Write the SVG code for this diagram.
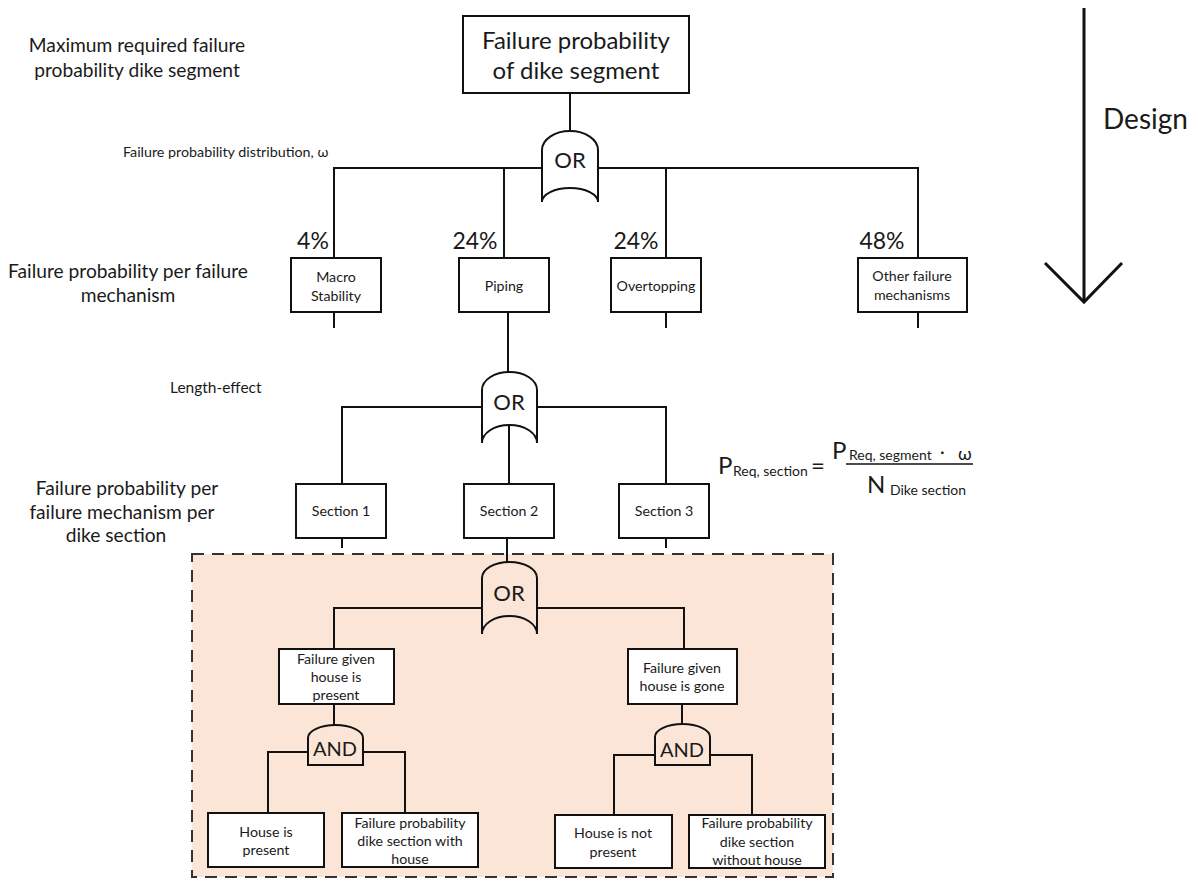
<svg xmlns="http://www.w3.org/2000/svg" width="1193" height="879" viewBox="0 0 1193 879">
<style>
text{font-family:Lato,"Liberation Sans",sans-serif;fill:#1a1a1a}
.box{fill:#fff;stroke:#111;stroke-width:2}
.gate{fill:#fff;stroke:#111;stroke-width:2}
.gatep{fill:none;stroke:#111;stroke-width:2}
.ln{fill:none;stroke:#111;stroke-width:2}
.t13{font-size:14.2px;text-anchor:middle}
.t17{font-size:19.2px;text-anchor:middle}
.pct{font-size:23px;text-anchor:middle}
.g{font-size:22px;text-anchor:middle}
.sub{font-size:14px}
</style>
<rect id="house-region" x="192" y="554" width="641" height="323" fill="#FBE5D6" stroke="#333" stroke-width="2" stroke-dasharray="12 8"/>
<g id="labels">
<text class="t17" x="137" y="52">Maximum required failure</text>
<text class="t17" x="137" y="77">probability dike segment</text>
<text x="123" y="157" font-size="14.3">Failure probability distribution, ω</text>
<text class="t17" x="128" y="278">Failure probability per failure</text>
<text class="t17" x="128" y="302">mechanism</text>
<text x="170" y="393" font-size="15.5">Length-effect</text>
<text class="t17" x="127" y="495">Failure probability per</text>
<text class="t17" x="122" y="519">failure mechanism per</text>
<text class="t17" x="116" y="542">dike section</text>
<text class="pct" x="313" y="249">4%</text>
<text class="pct" x="475" y="249">24%</text>
<text class="pct" x="636" y="249">24%</text>
<text class="pct" x="882" y="249">48%</text>
</g>
<g id="design-arrow">
<line x1="1084" y1="8" x2="1084" y2="301" stroke="#111" stroke-width="3"/>
<polyline points="1045,263 1084,302 1122,263" fill="none" stroke="#111" stroke-width="3"/>
<text x="1103" y="129" font-size="28">Design</text>
</g>
<g id="formula">
<text x="718" y="474" font-size="24">P</text>
<text class="sub" x="733" y="476">Req, section</text>
<text x="811" y="474" font-size="24">=</text>
<text x="832" y="459" font-size="24">P</text>
<text class="sub" x="849" y="460">Req, segment</text>
<text x="940" y="458" font-size="18">·</text>
<text x="958" y="460" font-size="18">ω</text>
<line x1="846" y1="464" x2="973" y2="464" stroke="#111" stroke-width="1.5"/>
<text x="867" y="493" font-size="24">N</text>
<text class="sub" x="890" y="495">Dike section</text>
</g>
<g id="connectors">
<path class="ln" d="M570,93 V131"/>
<path class="ln" d="M542,168 H334 V258 M504,168 V258 M598,168 H918 V258 M666,168 V258"/>
<path class="ln" d="M334,312 V328 M666,312 V328 M918,312 V328 M508,312 V372"/>
<path class="ln" d="M482,407 H342 V484 M537,407 H666 V484 M509,425 V484"/>
<path class="ln" d="M342,538 V548 M666,538 V548 M507,538 V562"/>
<path class="ln" d="M482,608 H334 V649 M537,608 H684 V649"/>
<path class="ln" d="M334,704 V725 M682,704 V724"/>
<path class="ln" d="M308,752 H268 V813 M363,752 H405 V813"/>
<path class="ln" d="M655,755 H614 V815 M710,755 H752 V815"/>
</g>
<g id="top">
<rect class="box" x="463" y="16" width="226" height="77"/>
<text x="576" y="49" font-size="24" text-anchor="middle">Failure probability</text>
<text x="576" y="79" font-size="24" text-anchor="middle">of dike segment</text>
</g>
<g id="or1">
<path class="gate" d="M542,202 L542,150 A28,19 0 0 1 598,150 L598,202 A28,14 0 0 0 542,202 Z"/>
<text class="g" x="570" y="168">OR</text>
</g>
<g id="macro">
<rect class="box" x="291" y="258" width="90" height="54"/>
<text class="t13" x="336" y="282">Macro</text>
<text class="t13" x="336" y="301">Stability</text>
</g>
<g id="piping">
<rect class="box" x="459" y="258" width="90" height="54"/>
<text class="t13" x="504" y="291">Piping</text>
</g>
<g id="overtopping">
<rect class="box" x="611" y="258" width="90" height="54"/>
<text class="t13" x="656" y="291">Overtopping</text>
</g>
<g id="other">
<rect class="box" x="858" y="258" width="109" height="54"/>
<text class="t13" x="912" y="281">Other failure</text>
<text class="t13" x="912" y="300">mechanisms</text>
</g>
<g id="or2">
<path class="gate" d="M482,443 L482,390 A27.5,18 0 0 1 537,390 L537,443 A27.5,18 0 0 0 482,443 Z"/>
<text class="g" x="509" y="410">OR</text>
</g>
<g id="section1">
<rect class="box" x="296" y="484" width="90" height="54"/>
<text class="t13" x="341" y="516">Section 1</text>
</g>
<g id="section2">
<rect class="box" x="464" y="484" width="90" height="54"/>
<text class="t13" x="509" y="516">Section 2</text>
</g>
<g id="section3">
<rect class="box" x="619" y="484" width="90" height="54"/>
<text class="t13" x="664" y="516">Section 3</text>
</g>
<g id="or3">
<path class="gatep" d="M482,634 L482,578 A27.5,16 0 0 1 537,578 L537,634 A27.5,18 0 0 0 482,634 Z"/>
<text class="g" x="509" y="601">OR</text>
</g>
<g id="house-present-branch">
<rect class="box" x="279" y="649" width="115" height="55"/>
<text class="t13" x="336" y="664">Failure given</text>
<text class="t13" x="336" y="682">house is</text>
<text class="t13" x="336" y="700">present</text>
</g>
<g id="house-gone-branch">
<rect class="box" x="628" y="649" width="109" height="55"/>
<text class="t13" x="682" y="673">Failure given</text>
<text class="t13" x="682" y="691">house is gone</text>
</g>
<g id="and1">
<path class="gatep" d="M308,765 L308,738 A27.5,13 0 0 1 363,738 L363,765 Z"/>
<text x="335" y="756" font-size="20" text-anchor="middle">AND</text>
</g>
<g id="and2">
<path class="gatep" d="M655,765 L655,737 A27.5,13 0 0 1 710,737 L710,765 Z"/>
<text x="682" y="757" font-size="20" text-anchor="middle">AND</text>
</g>
<g id="house-present">
<rect class="box" x="208" y="813" width="116" height="54"/>
<text class="t13" x="266" y="837">House is</text>
<text class="t13" x="266" y="855">present</text>
</g>
<g id="fp-with-house">
<rect class="box" x="342" y="813" width="136" height="54"/>
<text class="t13" x="410" y="828">Failure probability</text>
<text class="t13" x="410" y="846">dike section with</text>
<text class="t13" x="410" y="864">house</text>
</g>
<g id="house-not-present">
<rect class="box" x="555" y="815" width="117" height="53"/>
<text class="t13" x="613" y="838">House is not</text>
<text class="t13" x="613" y="857">present</text>
</g>
<g id="fp-without-house">
<rect class="box" x="689" y="815" width="136" height="53"/>
<text class="t13" x="757" y="828">Failure probability</text>
<text class="t13" x="757" y="847">dike section</text>
<text class="t13" x="757" y="865">without house</text>
</g>
</svg>
